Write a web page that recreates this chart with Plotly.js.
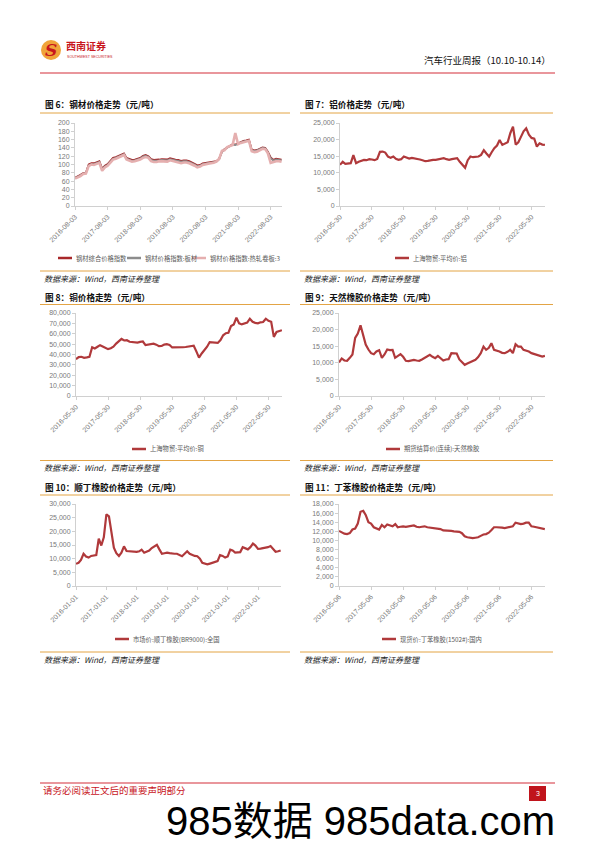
<!DOCTYPE html>
<html><head><meta charset="utf-8">
<script src="https://cdn.plot.ly/plotly-3.0.1.min.js"></script>
<style>html,body{margin:0;padding:0;background:#fff;}#chart{width:596px;height:843px;}</style>
</head><body><div id="chart"></div>
<script>
// ---------- Figure 6: steel price indices (monthly from 2016-08) ----------
const steelComposite = [68,71,75,79,80,
 100,103,103,105,108,90,97,101,109,116,118,121,
 123,127,116,114,111,112,114,116,121,123,120,113,
 111,111,112,113,113,112,115,113,112,111,109,110,
 110,108,106,102,98,99,103,104,105,105,106,108,
 114,131,137,141,146,149,148,151,155,157,158,160,
 136,134,135,138,141,140,131,117,111,114,113,112];
const steelPlate = [67,70,74,78,79,
 98,101,101,103,106,88,95,99,107,114,116,119,
 121,125,114,112,109,110,112,114,119,121,118,111,
 109,109,110,111,111,110,113,111,110,109,107,108,
 108,106,104,100,96,97,101,102,103,104,105,107,
 113,130,136,140,145,148,147,150,154,156,157,158,
 134,133,134,137,140,139,129,115,109,112,111,110];
const steelHotRolled = [66,69,72,77,78,
 96,100,99,101,104,85,93,97,105,112,114,117,
 119,123,112,110,107,108,110,112,116,118,116,108,
 106,106,108,108,108,107,110,108,106,105,103,105,
 105,103,101,97,93,95,99,101,102,103,104,107,
 113,133,134,142,144,147,176,149,152,154,155,157,
 132,130,131,135,138,137,127,104,106,108,108,107];
const steelNames = ['钢材综合价格指数','钢材价格指数:板材','钢材价格指数:热轧卷板:3'];
const steelTicks = ['2016-08-03','2017-08-03','2018-08-03','2019-08-03','2020-08-03','2021-08-03','2022-08-03'];

// ---------- Figure 7: aluminium (monthly from 2016-05) ----------
const aluminium = [12400,13300,12700,12800,12900,15300,12900,13300,
 13600,13900,13800,14100,14000,13800,14200,16300,16400,16100,14900,14500,
 14900,14200,13900,14100,14900,14700,14300,14500,14400,14200,14000,13800,
 13500,13600,13800,13900,13900,14000,14200,14400,14100,13900,14100,14200,
 14400,13300,12300,11500,13800,14900,14700,14800,14900,15400,16800,15800,
 14900,16200,17400,18200,19900,18400,18800,19200,22000,23900,18500,19200,
 20900,22500,23400,21500,20500,20300,17900,18900,18500,18400];
const aluminiumName = '上海物贸:平均价:铝';
const ticks0530 = ['2016-05-30','2017-05-30','2018-05-30','2019-05-30','2020-05-30','2021-05-30','2022-05-30'];

// ---------- Figure 8: copper (monthly from 2016-05) ----------
const copper = [35500,37500,37800,36800,37200,37800,47000,45800,
 47500,49000,47800,46700,45200,46000,47500,50500,52500,55000,53500,53800,
 52300,52000,51200,51500,52200,52500,49000,49300,50000,50500,49500,48000,
 48200,49500,49900,49200,46800,46700,47000,46400,47000,47200,47500,48000,
 48500,43000,37000,41000,44200,47500,52000,51500,51500,51200,54000,58500,
 60500,61000,67500,69000,75500,70000,69000,70000,70700,74500,71500,70500,
 70000,71000,71300,74500,72500,71500,57000,61700,62500,63400];
const copperName = '上海物贸:平均价:铜';

// ---------- Figure 9: natural rubber (monthly from 2016-05) ----------
const naturalRubber = [10100,11300,10700,10600,11500,12500,17500,18800,
 21300,18500,15500,14000,12900,12600,13400,13800,11500,12500,14000,13800,
 13900,11500,12000,12600,11800,10600,10500,10700,10900,10700,10600,11000,
 11400,11900,12400,11800,11400,12100,11500,10700,11000,11100,12900,12900,
 12800,11000,10200,9400,9800,10100,10400,10900,11700,12900,14900,13900,
 14500,15900,13900,13700,13400,13000,12900,13300,13900,12900,15600,14900,
 14900,13900,13700,13400,12900,12600,12400,12100,11900,12100];
const naturalRubberName = '期货结算价(连续):天然橡胶';

// ---------- Figure 10: butadiene rubber BR9000 (monthly from 2016-01) ----------
const brRubber = [8100,8500,9500,11800,10800,10400,11000,11200,11300,17300,14800,17800,
 26200,25500,19500,14000,12000,11000,12200,14500,12800,12700,12800,12600,
 12500,12700,13300,12200,12600,13000,13900,14500,15100,13400,11800,12000,
 12200,12000,11800,11800,11800,11300,10900,11800,12700,11800,11300,11000,
 10900,10000,8500,8100,7900,8200,8500,8800,9100,11300,11000,10400,
 10800,13300,13000,12200,12300,12400,14200,13900,13400,14200,15500,14800,
 13600,13700,13800,14000,14200,14600,13600,12500,12700,13000];
const brName = '市场价:顺丁橡胶(BR9000):全国';
const ticks0101 = ['2016-01-01','2017-01-01','2018-01-01','2019-01-01','2020-01-01','2021-01-01','2022-01-01'];

// ---------- Figure 11: SBR 1502# (monthly from 2016-05) ----------
const sbrRubber = [12100,11700,11500,11400,11600,12400,12600,13700,
 16300,16500,15600,14000,13700,12900,12700,12400,13400,12900,13500,13300,
 13100,13600,12900,13000,13100,13000,13100,13200,13300,13000,12900,13000,
 13100,12900,12800,12800,12700,12600,12500,12200,12200,12200,12100,12000,
 12000,11900,11600,10900,10700,10600,10500,10600,10700,11000,11300,11400,
 11700,12300,12900,12900,12900,12800,12700,12800,12900,13100,13900,13800,
 13600,13700,13900,13900,13100,13000,12900,12800,12600,12500];
const sbrName = '现货价:丁苯橡胶(1502#):国内';
const ticks0506 = ['2016-05-06','2017-05-06','2018-05-06','2019-05-06','2020-05-06','2021-05-06','2022-05-06'];

// monthly date labels for the x values
function monthly(y, m, d, n) {
  const out = [];
  for (let i = 0; i < n; i++) {
    const dt = new Date(Date.UTC(y, m - 1 + i, 1));
    const yy = dt.getUTCFullYear(), mo = dt.getUTCMonth();
    const dim = new Date(Date.UTC(yy, mo + 1, 0)).getUTCDate();
    const dd = Math.min(d, dim);
    out.push(yy + '-' + String(mo + 1).padStart(2, '0') + '-' + String(dd).padStart(2, '0'));
  }
  return out;
}

const W = 596, H = 843;
const X = v => v / W, Y = v => 1 - v / H;
const RED = '#B0393B';
const TICKFONT = {family: 'Liberation Sans, Arial, sans-serif', size: 7, color: '#7a7a7a'};
const CJK = 'Noto Sans CJK SC, sans-serif';

const charts = [
  {id: '', xd: [75, 282], yd: [123, 206], yr: [0, 200], dt: 20, fmt: '', ticks: steelTicks, xr: ['2016-08-03', '2022-12-08'],
   series: [
     {y: steelComposite, d: monthly(2016, 8, 3, steelComposite.length), c: '#A8282A', w: 1.8, name: steelNames[0]},
     {y: steelPlate, d: monthly(2016, 8, 3, steelPlate.length), c: '#8C8C8C', w: 1.8, name: steelNames[1]},
     {y: steelHotRolled, d: monthly(2016, 8, 3, steelHotRolled.length), c: '#E5AFAF', w: 2.6, name: steelNames[2]}]},
  {id: '2', xd: [340, 545], yd: [123, 206], yr: [0, 25000], dt: 5000, fmt: ',', ticks: ticks0530, xr: ['2016-05-30', '2022-10-31'],
   series: [{y: aluminium, d: monthly(2016, 5, 30, aluminium.length), c: RED, w: 2.2, name: aluminiumName}]},
  {id: '3', xd: [76, 282], yd: [313, 396], yr: [0, 80000], dt: 10000, fmt: ',', ticks: ticks0530, xr: ['2016-05-30', '2022-10-31'],
   series: [{y: copper, d: monthly(2016, 5, 30, copper.length), c: RED, w: 2.2, name: copperName}]},
  {id: '4', xd: [339, 545], yd: [313, 396], yr: [0, 25000], dt: 5000, fmt: ',', ticks: ticks0530, xr: ['2016-05-30', '2022-10-31'],
   series: [{y: naturalRubber, d: monthly(2016, 5, 30, naturalRubber.length), c: RED, w: 2.2, name: naturalRubberName}]},
  {id: '5', xd: [76, 281], yd: [504, 586], yr: [0, 30000], dt: 5000, fmt: ',', ticks: ticks0101, xr: ['2016-01-01', '2022-10-05'],
   series: [{y: brRubber, d: monthly(2016, 1, 1, brRubber.length), c: RED, w: 2.2, name: brName}]},
  {id: '6', xd: [339, 545], yd: [504, 586], yr: [0, 18000], dt: 2000, fmt: ',', ticks: ticks0506, xr: ['2016-05-06', '2022-10-08'],
   series: [{y: sbrRubber, d: monthly(2016, 5, 6, sbrRubber.length), c: RED, w: 2.2, name: sbrName}]}
];

const data = [];
const layout = {
  width: W, height: H, margin: {l: 0, r: 0, t: 0, b: 0},
  paper_bgcolor: '#fff', plot_bgcolor: '#fff', showlegend: false,
  annotations: [], shapes: []
};

charts.forEach(ch => {
  const xk = 'xaxis' + ch.id, yk = 'yaxis' + ch.id;
  layout[xk] = {
    type: 'date', domain: [X(ch.xd[0]), X(ch.xd[1])], range: ch.xr, anchor: 'y' + ch.id,
    tickmode: 'array', tickvals: ch.ticks, ticktext: ch.ticks, tickangle: -45,
    tickfont: TICKFONT, showgrid: false, zeroline: false,
    showline: true, linecolor: '#D0D0D0', linewidth: 1, ticks: 'outside', ticklen: 3, tickcolor: '#D0D0D0',
    fixedrange: true
  };
  layout[yk] = {
    domain: [Y(ch.yd[1]), Y(ch.yd[0])], range: ch.yr, anchor: 'x' + ch.id,
    tickmode: 'linear', tick0: 0, dtick: ch.dt, tickformat: ch.fmt,
    tickfont: TICKFONT, showgrid: false, zeroline: false,
    showline: true, linecolor: '#D0D0D0', linewidth: 1, ticks: 'outside', ticklen: 3, tickcolor: '#D0D0D0',
    fixedrange: true
  };
  ch.series.forEach(s => {
    data.push({type: 'scatter', mode: 'lines', x: s.d, y: s.y, name: s.name,
      xaxis: 'x' + ch.id, yaxis: 'y' + ch.id, line: {color: s.c, width: s.w}, hoverinfo: 'skip'});
  });
});

function text(x, y, t, size, color, opts) {
  layout.annotations.push(Object.assign({
    xref: 'paper', yref: 'paper', x: X(x), y: Y(y), text: t, showarrow: false,
    xanchor: 'left', yanchor: 'middle', font: {family: CJK, size: size, color: color}
  }, opts || {}));
}
function hline(x0, x1, y, color, w) {
  layout.shapes.push({type: 'line', xref: 'paper', yref: 'paper', x0: X(x0), x1: X(x1), y0: Y(y), y1: Y(y),
    line: {color: color, width: w}});
}

// header
layout.shapes.push({type: 'circle', xref: 'paper', yref: 'paper', x0: X(41), x1: X(61), y0: Y(60), y1: Y(40),
  fillcolor: '#F0A43A', line: {width: 0}});
text(51, 50, '<b><i>S</i></b>', 17, '#C8161D', {xanchor: 'center', font: {family: 'DejaVu Serif, serif', size: 17, color: '#C8161D'}});
text(64, 45, '<b>西南证券</b>', 10, '#C8161D');
text(65, 57, 'SOUTHWEST SECURITIES', 3.6, '#C8161D', {font: {family: 'Liberation Sans, Arial', size: 3.6, color: '#C8161D'}});
text(553, 60, '汽车行业周报（10.10-10.14）', 9.5, '#111', {xanchor: 'right'});
hline(40, 555, 73, '#D32F3A', 1.2);

// chart frames
const orange = '#E3A445';
const frames = [
  {x0: 40, x1: 290, top: 113, bot: 271, title: '图 6：钢材价格走势（元/吨）', ty: 104, sy: 279},
  {x0: 300, x1: 553, top: 113, bot: 271, title: '图 7：铝价格走势（元/吨）', ty: 104, sy: 279},
  {x0: 40, x1: 290, top: 304.5, bot: 460.5, title: '图 8：铜价格走势（元/吨）', ty: 297, sy: 467},
  {x0: 300, x1: 553, top: 304.5, bot: 460.5, title: '图 9：天然橡胶价格走势（元/吨）', ty: 297, sy: 467},
  {x0: 40, x1: 290, top: 495, bot: 652, title: '图 10：顺丁橡胶价格走势（元/吨）', ty: 487, sy: 659},
  {x0: 300, x1: 553, top: 495, bot: 652, title: '图 11：丁苯橡胶价格走势（元/吨）', ty: 487, sy: 659}
];
frames.forEach(f => {
  hline(f.x0, f.x1, f.top, orange, 1);
  hline(f.x0, f.x1, f.bot, orange, 1);
  text(f.x0 + 3, f.ty, '<b>' + f.title + '</b>', 8.6, '#111');
  text(f.x0 + 2, f.sy, '<i>数据来源：Wind，西南证券整理</i>', 8, '#222');
});

// legends
function legendItem(x, y, color, w, label) {
  layout.shapes.push({type: 'line', xref: 'paper', yref: 'paper', x0: X(x), x1: X(x + 14), y0: Y(y), y1: Y(y),
    line: {color: color, width: w}});
  text(x + 15.5, y, label, 6.3, '#595959');
}
legendItem(58, 258, '#A8282A', 2.5, steelNames[0]);
legendItem(127, 258, '#8C8C8C', 2.5, steelNames[1]);
legendItem(192, 258, '#E5AFAF', 2.5, steelNames[2]);
legendItem(395, 258, RED, 2.5, aluminiumName);
legendItem(132, 449, RED, 2.5, copperName);
legendItem(386, 449, RED, 2.5, naturalRubberName);
legendItem(115, 639, RED, 2.5, brName);
legendItem(382, 639, RED, 2.5, sbrName);

// footer
hline(40, 555, 783, '#D32F3A', 1.2);
text(41, 790, '请务必阅读正文后的重要声明部分', 9.5, '#C8161D');
layout.shapes.push({type: 'rect', xref: 'paper', yref: 'paper', x0: X(529), x1: X(546), y0: Y(801), y1: Y(786),
  fillcolor: '#C0141C', line: {width: 0}});
text(537.5, 793.5, '3', 7, '#fff', {xanchor: 'center', font: {family: 'Liberation Sans, Arial', size: 7, color: '#fff'}});
text(164, 821, '985数据 985data.com', 40, '#000', {font: {family: 'Liberation Sans, Arial, Noto Sans CJK SC, sans-serif', size: 40, color: '#000'}});

Plotly.newPlot('chart', data, layout, {displayModeBar: false, staticPlot: true});
</script></body></html>
